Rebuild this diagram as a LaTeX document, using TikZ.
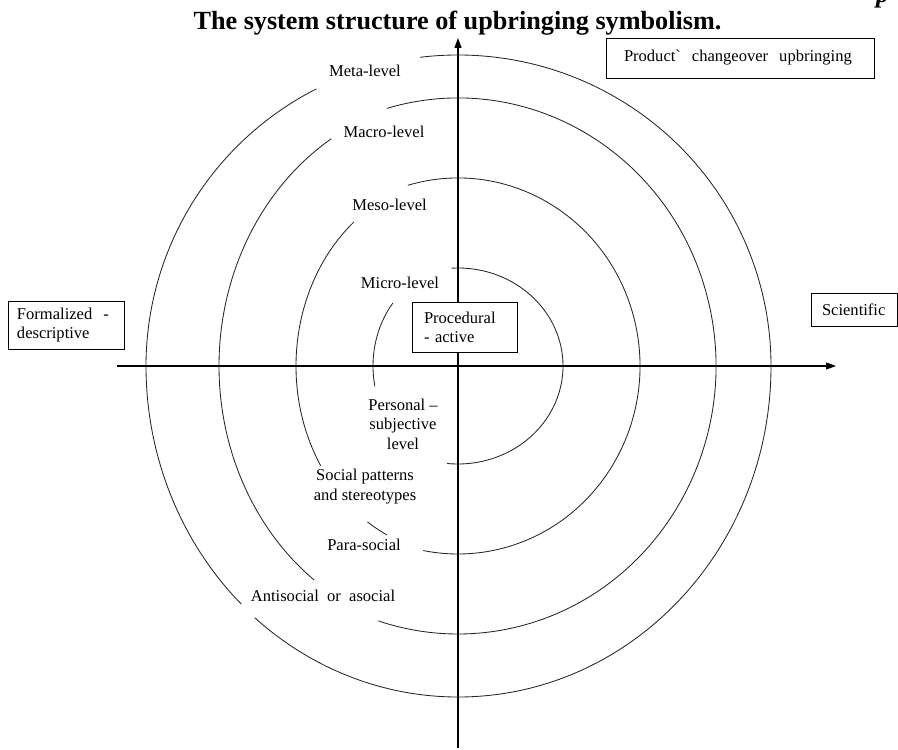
\documentclass[tikz,border=0pt]{standalone}
\usepackage{fontspec}
\setmainfont{Liberation Serif}
\usetikzlibrary{arrows.meta}

\begin{document}
\begin{tikzpicture}[x=1bp,y=1bp]

\tikzstyle{ring_line} = [draw=black!85, line width=0.85bp]
\tikzstyle{axis_arrow} = [-{Triangle[length=10bp,width=7bp]}, line width=1.1bp]
\tikzstyle{level_text} = [inner sep=0pt, anchor=base, align=center, font=\fontsize{16.6}{19.5}\selectfont]
\tikzstyle{label_box} = [draw=black, fill=white, line width=0.8bp, inner ysep=0pt, align=left, font=\fontsize{16.6}{19}\selectfont]

\useasboundingbox (0,0) rectangle (898,-750);

%------------------------------------------------------------
	\coordinate (O) at (458,-366);
	\coordinate (axS) at (458,-748);
	\coordinate (axN) at (458,-38);
	\coordinate (axW) at (117,-366);
	\coordinate (axE) at (836,-366);

	\draw[axis_arrow] (axS) -- (axN);
	\draw[axis_arrow] (axW) -- (axE);

%------------------------------------------------------------
	% micro
	\draw[ring_line] (O) ++(93.5:105 and 98) arc[start angle=93.5, end angle=-96, x radius=105, y radius=98];
	\draw[ring_line] (O) ++(140:85 and 98) arc[start angle=140, end angle=192, x radius=85, y radius=98];
	% meso
	\draw[ring_line] (O) ++(106:182 and 188) arc[start angle=106, end angle=-101, x radius=182, y radius=188];
	\draw[ring_line] (O) ++(130:162 and 188) arc[start angle=130, end angle=212, x radius=162, y radius=188];
	\draw[ring_line] (O) ++(236:162 and 188) arc[start angle=236, end angle=244, x radius=162, y radius=188];
	% macro
	\draw[ring_line] (O) ++(106:258 and 268) arc[start angle=106, end angle=-108, x radius=258, y radius=268];
	\draw[ring_line] (O) ++(122:239 and 268) arc[start angle=122, end angle=233, x radius=239, y radius=268];
	% meta
	\draw[ring_line] (O) ++(97:313 and 311) arc[start angle=97, end angle=0, x radius=313, y radius=311]
		arc[start angle=0, end angle=-130.5, x radius=313, y radius=331];
	\draw[ring_line] (O) ++(117:312 and 311) arc[start angle=117, end angle=180, x radius=312, y radius=311]
		arc[start angle=180, end angle=226, x radius=312, y radius=331];

%------------------------------------------------------------
	\node[inner sep=0pt, anchor=base, font=\fontsize{26.3}{30}\selectfont\bfseries] (title) at (457.5,-30) {The system structure of upbringing symbolism.};
	\node[inner sep=0pt, anchor=base west, font=\fontsize{26.3}{30}\selectfont\bfseries\itshape] (pfrag) at (876,-3) {p};

	\node[label_box, text width=232bp, inner xsep=18bp, minimum height=40bp] (product) at (740,-58) {Product\textasciigrave\ \ changeover\ \ upbringing};
	\node[label_box, text width=81bp, inner xsep=12bp, minimum height=50bp] (procedural) at (464.5,-327) {Procedural\\- active};
	\node[label_box, text width=98bp, inner xsep=9bp, minimum height=48bp] (formalized) at (66,-325) {Formalized \ -\\descriptive};
	\node[label_box, text width=64bp, inner xsep=11bp, minimum height=33bp] (scientific) at (854,-309.5) {Scientific};

%------------------------------------------------------------
	\node[level_text] (meta) at (365,-77) {Meta-level};
	\node[level_text] (macro) at (384,-137) {Macro-level};
	\node[level_text] (meso) at (389.5,-210) {Meso-level};
	\node[level_text] (micro) at (400,-288) {Micro-level};
	\node[level_text] (personal) at (403,-449) {Personal --\\subjective\\level};
	\node[level_text] (social) at (365,-500) {Social patterns\\and stereotypes};
	\node[level_text] (para) at (364,-550) {Para-social};
	\node[level_text] (anti) at (323,-601) {Antisocial \ or \ asocial};

\end{tikzpicture}
\end{document}
